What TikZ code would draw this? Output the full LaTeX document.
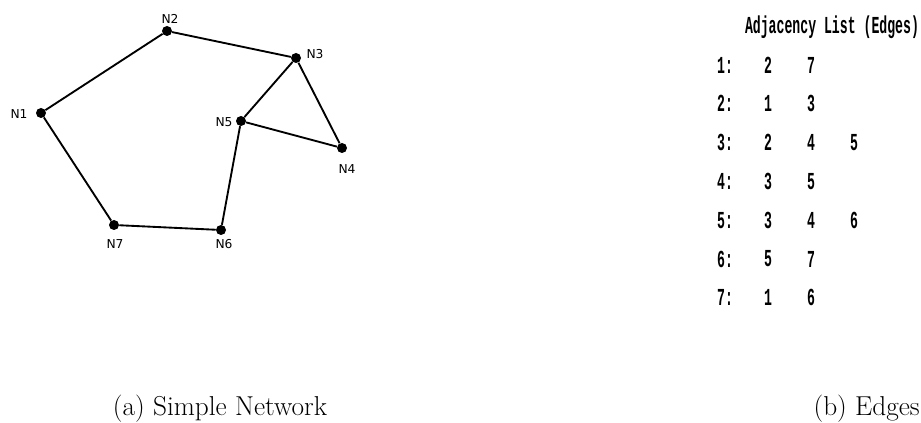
\documentclass[tikz,border=0pt]{standalone}
\usepackage{fontspec}
\usepackage{xcolor}
\usepackage{tikz}
\usetikzlibrary{positioning}
\newfontfamily\labelfont{DejaVu Sans}
\newfontfamily\edgefont[FakeStretch=0.54]{Liberation Mono}

\begin{document}
\begin{tikzpicture}[
  x=0.75pt,y=-0.75pt,
  every node/.style={inner sep=0pt},
  vtx/.style={circle,fill=black,minimum size=7.5pt},
  vlab/.style={font=\labelfont\fontsize{9.2}{11}\selectfont},
  link/.style={line width=1.4pt},
  cell/.style={font=\edgefont\bfseries\fontsize{18.3}{21}\selectfont},
  subcap/.style={font=\fontsize{20.5}{24}\selectfont}
]
\useasboundingbox (0,0) rectangle (921,423);
% network
\node[vtx] (n1) at (41,113) {};
\node[vtx] (n2) at (167,31) {};
\node[vtx] (n3) at (296,58) {};
\node[vtx] (n4) at (342,148) {};
\node[vtx] (n5) at (241,121) {};
\node[vtx] (n6) at (221,230) {};
\node[vtx] (n7) at (114,225) {};
\node[vlab] (l1) at (19,114) {N1};
\node[vlab] (l2) at (170,19) {N2};
\node[vlab] (l3) at (315,54) {N3};
\node[vlab] (l4) at (347,169) {N4};
\node[vlab] (l5) at (224,122) {N5};
\node[vlab] (l6) at (224,244) {N6};
\node[vlab] (l7) at (115,244) {N7};
\draw[link] (n1) -- (n2) -- (n3) -- (n4) -- (n5) -- (n3);
\draw[link] (n5) -- (n6) -- (n7) -- (n1);
% adjacency list
\node[cell] (head) at (832,27) {Adjacency List (Edges)};
\foreach \r/\adj in {1/{2,7},2/{1,3},3/{2,4,5},4/{3,5},5/{3,4,6},6/{5,7},7/{1,6}}{
  \node[cell] (r\r) at (725,{65+(\r-1)*38.8}) {\r:};
  \foreach \v [count=\k] in \adj
    \node[cell] (e\r-\k) at ({768+(\k-1)*43},{65+(\r-1)*38.8}) {\v};
}
% captions
\node[subcap,anchor=base] (capa) at (220,416) {(a) Simple Network};
\node[subcap,anchor=base east] (capb) at (920,416) {(b) Edges};
\end{tikzpicture}
\end{document}
